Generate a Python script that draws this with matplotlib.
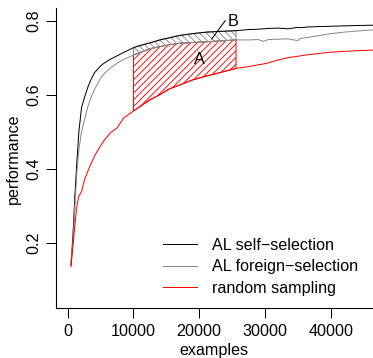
import numpy as np
import matplotlib
matplotlib.use("Agg")
import matplotlib.pyplot as plt

plt.rcParams["font.family"] = ["Liberation Sans", "DejaVu Sans"]
plt.rcParams["hatch.linewidth"] = 0.8

# learning curves
examples = [500, 800, 1100, 1400, 1700, 2100, 2600, 3100, 3600, 4100,
            5000, 5600, 6500, 7500, 8500, 10000, 11000, 12500, 14000, 15500,
            17000, 19000, 21000, 23000, 25600, 27500, 29000, 29750, 30500, 32000,
            33500, 35000, 35400, 36500, 38000, 40000, 42000, 44000, 47000]

self_sel = [0.14, 0.22, 0.33, 0.42, 0.50, 0.565, 0.595, 0.622, 0.643, 0.660,
            0.678, 0.686, 0.696, 0.705, 0.714, 0.727, 0.733, 0.740, 0.748, 0.754,
            0.760, 0.765, 0.769, 0.771, 0.773, 0.776, 0.777, 0.778, 0.779, 0.780,
            0.778, 0.782, 0.781, 0.783, 0.784, 0.785, 0.786, 0.787, 0.788]

foreign_sel = [0.15, 0.20, 0.30, 0.39, 0.45, 0.50, 0.535, 0.57, 0.595, 0.615,
               0.645, 0.658, 0.672, 0.685, 0.695, 0.707, 0.714, 0.724, 0.730, 0.735,
               0.739, 0.741, 0.743, 0.745, 0.748, 0.748, 0.749, 0.744, 0.749, 0.750,
               0.751, 0.746, 0.752, 0.755, 0.759, 0.765, 0.769, 0.772, 0.776]

random_samp = [0.135, 0.19, 0.25, 0.30, 0.326, 0.338, 0.372, 0.395, 0.416, 0.435,
               0.462, 0.478, 0.497, 0.510, 0.537, 0.556, 0.568, 0.586, 0.600, 0.616,
               0.626, 0.640, 0.650, 0.659, 0.671, 0.676, 0.681, 0.683, 0.686, 0.694,
               0.700, 0.704, 0.705, 0.708, 0.711, 0.715, 0.717, 0.719, 0.721]

labels = ["AL self\u2212selection", "AL foreign\u2212selection", "random sampling"]
colors = ["black", "#888888", "red"]

band_start, band_end = 10000, 25600
xticks = [0, 10000, 20000, 30000, 40000]
yticks = [0.2, 0.4, 0.6, 0.8]

x = np.array(examples)
ys = [np.array(self_sel), np.array(foreign_sel), np.array(random_samp)]
fs = 14.5

fig = plt.figure(figsize=(373 / 80, 358 / 80), dpi=80)
ax = fig.add_axes([55.7 / 373, 49.7 / 358, 317.3 / 373, 300 / 358])

band = (x >= band_start) & (x <= band_end)
ax.fill_between(x[band], ys[2][band], ys[1][band], facecolor="none",
                edgecolor="red", hatch="////", linewidth=0.9)
ax.fill_between(x[band], ys[1][band], ys[0][band], facecolor="none",
                edgecolor="#888888", hatch="\\\\\\\\", linewidth=0.9)

for y, c, lab in zip(ys, colors, labels):
    ax.plot(x, y, color=c, lw=0.9, label=lab)

ax.text(20000, 0.696, "A", fontsize=fs, ha="center", va="center")
ax.text(25150, 0.797, "B", fontsize=fs, ha="center", va="center")
ax.plot([23950, 21900], [0.800, 0.7505], color="black", lw=0.9)

ax.set_xlim(-1825, 46433)
ax.set_ylim(0.0227, 0.8335)
ax.set_xticks(xticks)
ax.set_yticks(yticks)
ax.spines["top"].set_visible(False)
ax.spines["right"].set_visible(False)
for s in ("left", "bottom"):
    ax.spines[s].set_linewidth(1.0)
ax.tick_params(length=9, width=0.9, labelsize=fs)
ax.tick_params(axis="x", pad=5)
ax.tick_params(axis="y", labelrotation=90, pad=4)
for lbl in ax.get_yticklabels():
    lbl.set_va("center")
ax.set_xlabel("examples", fontsize=fs, labelpad=4)
ax.set_ylabel("performance", fontsize=fs, labelpad=5)

ax.legend(loc="upper left", bbox_to_anchor=(163 / 373, 1 - 238 / 358),
          bbox_transform=fig.transFigure, frameon=False, fontsize=fs,
          handlelength=2.1, handletextpad=0.95, labelspacing=0.4,
          borderpad=0, borderaxespad=0)

fig.savefig("out.png", dpi=80)
